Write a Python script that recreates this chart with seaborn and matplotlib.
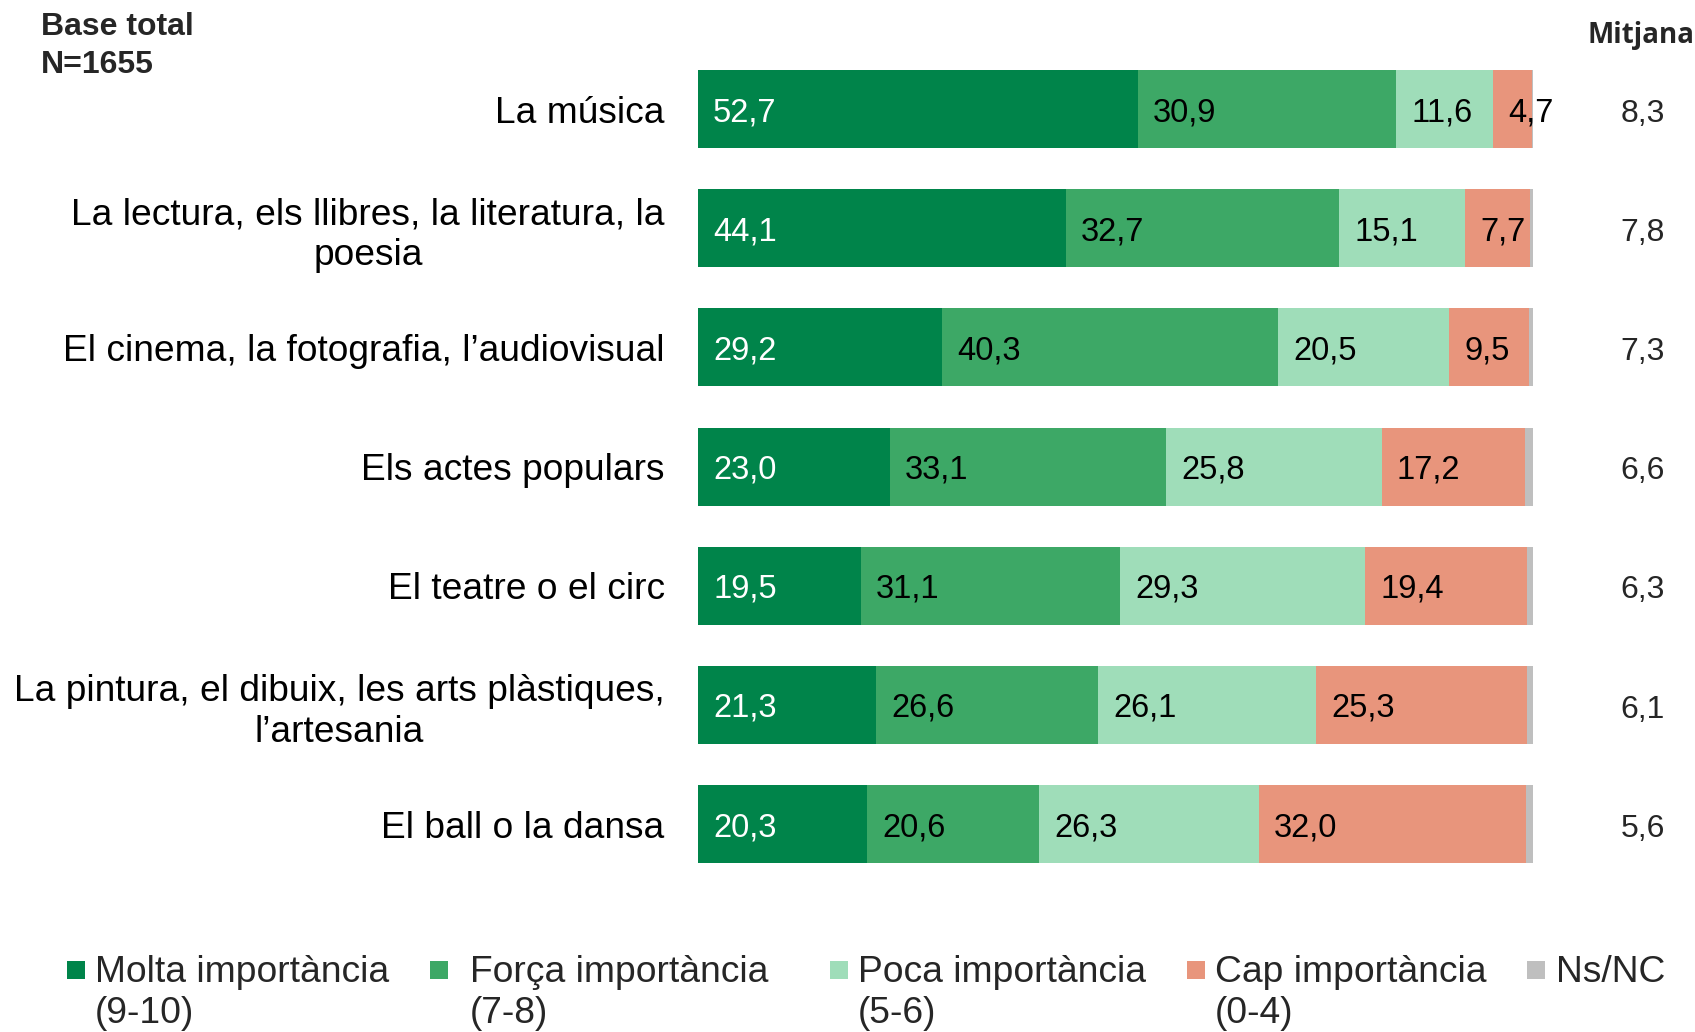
import numpy as np
import pandas as pd
import matplotlib.pyplot as plt
import matplotlib.patches as mpatches
import seaborn as sns

# Data
categories = [
    "La música",
    "La lectura, els llibres, la literatura, la\npoesia",
    "El cinema, la fotografia, l’audiovisual",
    "Els actes populars",
    "El teatre o el circ",
    "La pintura, el dibuix, les arts plàstiques,\nl’artesania",
    "El ball o la dansa",
]
molta = [52.7, 44.1, 29.2, 23.0, 19.5, 21.3, 20.3]
forca = [30.9, 32.7, 40.3, 33.1, 31.1, 26.6, 20.6]
poca = [11.6, 15.1, 20.5, 25.8, 29.3, 26.1, 26.3]
cap = [4.7, 7.7, 9.5, 17.2, 19.4, 25.3, 32.0]
nsnc = [0.1, 0.4, 0.5, 0.9, 0.7, 0.7, 0.8]
mitjana = [8.3, 7.8, 7.3, 6.6, 6.3, 6.1, 5.6]

series_names = ["Molta importància\n(9-10)", "Força importància\n(7-8)",
                "Poca importància\n(5-6)", "Cap importància\n(0-4)", "Ns/NC"]
colors = ["#00844A", "#3DA866", "#9FDDB9", "#E8957C", "#BFBFBF"]

df = pd.DataFrame({"cat": categories, "molta": molta, "forca": forca,
                   "poca": poca, "cap": cap, "nsnc": nsnc})
cols = ["molta", "forca", "poca", "cap", "nsnc"]
cum = df[cols].cumsum(axis=1)

sns.set_theme(style="white")
plt.rcParams["font.family"] = ["Liberation Sans", "DejaVu Sans"]

fig = plt.figure(figsize=(16.95, 10.32), dpi=100)
ax = fig.add_axes([0.4118, 0.1438, 0.4926, 0.8082])

# stacked bars: draw the cumulative totals from the back to the front
for col, color in reversed(list(zip(cols, colors))):
    sns.barplot(x=cum[col], y=df["cat"], color=color, orient="h",
                width=0.655, saturation=1, ax=ax, linewidth=0)

# value labels, left aligned inside each segment
for i in range(len(categories)):
    start = 0
    for j, col in enumerate(cols[:4]):
        v = df.loc[i, col]
        ax.text(start + 1.8, i + 0.03, f"{v:.1f}".replace(".", ","),
                va="center", ha="left", fontsize=23.5,
                color="white" if j == 0 else "black")
        start += v

ax.set_xlim(0, 100)
ax.set_ylim(6.5, -0.5)
ax.set_xlabel("")
ax.set_ylabel("")
ax.set_xticks([])
sns.despine(ax=ax, left=True, bottom=True)
ax.tick_params(axis="y", length=0, pad=24)
for lab in ax.get_yticklabels():
    lab.set_fontsize(26.7)
    lab.set_multialignment("center")
    lab.set_linespacing(1.22)
    lab.set_color("black")

# average column
for i, m in enumerate(mitjana):
    ax.text(1.0 + 110 / 835, i + 0.04, f"{m:.1f}".replace(".", ","),
            transform=ax.get_yaxis_transform(), ha="center", va="center",
            fontsize=23)
fig.text(0.968, 0.966, "Mitjana", ha="center", va="center", fontsize=20,
         fontweight="bold", family=["Open Sans", "DejaVu Sans"])

fig.text(0.024, 1 - 27 / 1032, "Base total", ha="left", va="center",
         fontsize=23, fontweight="bold")
fig.text(0.024, 1 - 65 / 1032, "N=1655", ha="left", va="center",
         fontsize=23, fontweight="bold")

# legend at the bottom
marker_x = [67, 430, 830, 1187, 1527]
text_x = [95, 470, 858, 1215, 1556]
W, H = 1695, 1032
for mx, tx, name, color in zip(marker_x, text_x, series_names, colors):
    fig.patches.append(mpatches.Rectangle(
        (mx / W, 1 - 979 / H), 18 / W, 18 / H, transform=fig.transFigure,
        facecolor=color, edgecolor="none"))
    fig.text(tx / W, 1 - 955 / H, name, ha="left", va="top", fontsize=26.8,
             linespacing=1.22)

fig.savefig("out.png", dpi=100)
